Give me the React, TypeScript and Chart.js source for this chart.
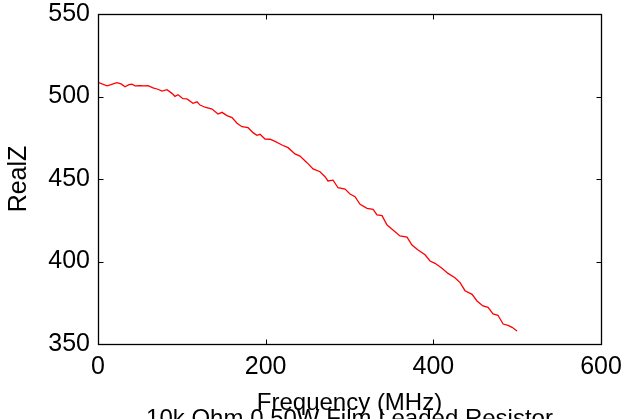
import React, { useEffect, useRef } from "react";
import { Chart, registerables } from "chart.js";

Chart.register(...registerables);

const frequencyMHz = [
  0, 10.8, 15.5, 22.6, 27.5, 32.2, 37.0, 40.5, 44.2, 50.1, 54.8, 59.7, 65.6, 71.5, 76.4, 82.3, 88.2, 91.8, 95.5,
  101.4, 106.1, 113.3, 118.1, 121.7, 127.7, 136.0, 143.2, 147.9, 153.9, 159.9, 165.8, 171.8, 179.0, 184.9, 189.6,
  193.3, 199.2, 205.2, 211.2, 219.5, 226.7, 235.0, 240.9, 249.3, 256.5, 264.8, 270.8, 274.3, 280.4, 286.3, 294.7,
  300.6, 306.6, 312.6, 320.9, 328.1, 332.8, 338.8, 344.8, 351.9, 360.2, 368.6, 374.5, 381.8, 390.1, 396.1, 402.0,
  410.3, 417.5, 425.8, 431.9, 437.8, 446.2, 452.1, 459.2, 465.3, 471.2, 477.1, 483.2, 489.1, 493.9, 499.9,
];
const realZ = [
  508.6, 506.5, 507.2, 508.4, 507.6, 505.9, 507.2, 507.4, 506.4, 506.5, 506.4, 506.5, 505.2, 504.4, 503.3, 504.1,
  501.9, 500.1, 501.1, 498.7, 498.5, 495.9, 496.8, 494.8, 493.5, 492.4, 489.4, 490.4, 488.4, 487.2, 483.8, 481.7,
  481.1, 478.1, 476.5, 477.1, 474.2, 474.1, 472.8, 470.6, 469.0, 465.2, 463.9, 459.9, 456.1, 454.4, 451.4, 448.8,
  449.3, 444.7, 443.9, 440.9, 439.3, 434.7, 432.2, 431.6, 428.2, 427.8, 422.1, 419.1, 415.5, 414.8, 410.0, 407.0,
  404.1, 400.3, 398.9, 395.9, 392.8, 390.2, 387.2, 382.3, 380.1, 376.1, 373.1, 372.2, 368.2, 367.4, 362.1, 361.3,
  360.1, 357.9,
];
const xTicks = [0, 200, 400, 600];
const yTicks = [350, 400, 450, 500, 550];
const xLabel = "Frequency (MHz)";
const yLabel = "RealZ";
const chartTitle = "10k Ohm 0.50W Film Leaded Resistor";

const FONT = "'Liberation Sans', Arial, Helvetica, sans-serif";
const FS = 25;
const TFS = 24;

const boxPlugin = {
  id: "matlabBox",
  afterDatasetsDraw(chart: any) {
    const { ctx, chartArea, scales } = chart;
    const { left, right, top, bottom } = chartArea;
    const x = scales.x;
    const y = scales.y;
    const L = Math.round(left) + 0.5;
    const R = Math.round(right) + 0.5;
    const T = Math.round(top) + 0.5;
    const B = Math.round(bottom) + 0.5;
    ctx.save();
    ctx.strokeStyle = "#000";
    ctx.lineWidth = 1;
    ctx.beginPath();
    x.ticks.forEach((t: any) => {
      const px = Math.round(x.getPixelForValue(t.value)) + 0.5;
      ctx.moveTo(px, B);
      ctx.lineTo(px, B - 5);
      ctx.moveTo(px, T);
      ctx.lineTo(px, T + 5);
    });
    y.ticks.forEach((t: any) => {
      const py = Math.round(y.getPixelForValue(t.value)) + 0.5;
      ctx.moveTo(L, py);
      ctx.lineTo(L + 5, py);
      ctx.moveTo(R, py);
      ctx.lineTo(R - 5, py);
    });
    ctx.stroke();
    ctx.lineWidth = 1.3;
    ctx.strokeRect(L, T, R - L, B - T);
    ctx.restore();
  },
};

const zeroPad = (s: any) => {
  s.paddingTop = 0;
  s.paddingBottom = 0;
  s.paddingLeft = 0;
  s.paddingRight = 0;
};

export default function App() {
  const ref = useRef<HTMLCanvasElement | null>(null);
  useEffect(() => {
    if (!ref.current) return;
    const data = frequencyMHz.map((f, i) => ({ x: f, y: realZ[i] }));
    const chart = new Chart(ref.current, {
      type: "line",
      data: {
        datasets: [
          {
            data,
            borderColor: "#ff0000",
            borderWidth: 1.3,
            pointRadius: 0,
            tension: 0,
            fill: false,
          },
        ],
      },
      options: {
        animation: false,
        responsive: false,
        layout: { padding: { top: 14, right: 23, left: 0, bottom: 0 } },
        plugins: { legend: { display: false }, tooltip: { enabled: false } },
        scales: {
          x: {
            type: "linear",
            min: 0,
            max: 600,
            afterFit: (s: any) => {
              s.height = 75;
              zeroPad(s);
            },
            afterBuildTicks: (s: any) => {
              s.ticks = xTicks.map((v) => ({ value: v }));
            },
            grid: { display: false, drawTicks: false },
            border: { display: false },
            ticks: {
              color: "#000",
              padding: 8,
              maxRotation: 0,
              font: { family: FONT, size: FS },
            },
            title: {
              display: true,
              text: [xLabel, chartTitle],
              color: "#000",
              font: { family: FONT, size: TFS, lineHeight: 0.7 },
              padding: { top: 0, bottom: -9.2 },
            },
          },
          y: {
            type: "linear",
            min: 350,
            max: 550,
            afterFit: (s: any) => {
              s.width = 98;
              zeroPad(s);
            },
            afterBuildTicks: (s: any) => {
              s.ticks = yTicks.map((v) => ({ value: v }));
            },
            grid: { display: false, drawTicks: false },
            border: { display: false },
            ticks: {
              color: "#000",
              padding: 8,
              font: { family: FONT, size: FS },
            },
            title: {
              display: true,
              text: yLabel,
              color: "#000",
              font: { family: FONT, size: FS },
              padding: { top: 4, bottom: 0 },
            },
          },
        },
      },
      plugins: [boxPlugin],
    });
    return () => chart.destroy();
  }, []);
  return (
    <div style={{ position: "fixed", left: 0, top: 0, width: 624, height: 419, background: "#fff" }}>
      <canvas ref={ref} width={624} height={419} style={{ display: "block" }} />
    </div>
  );
}
